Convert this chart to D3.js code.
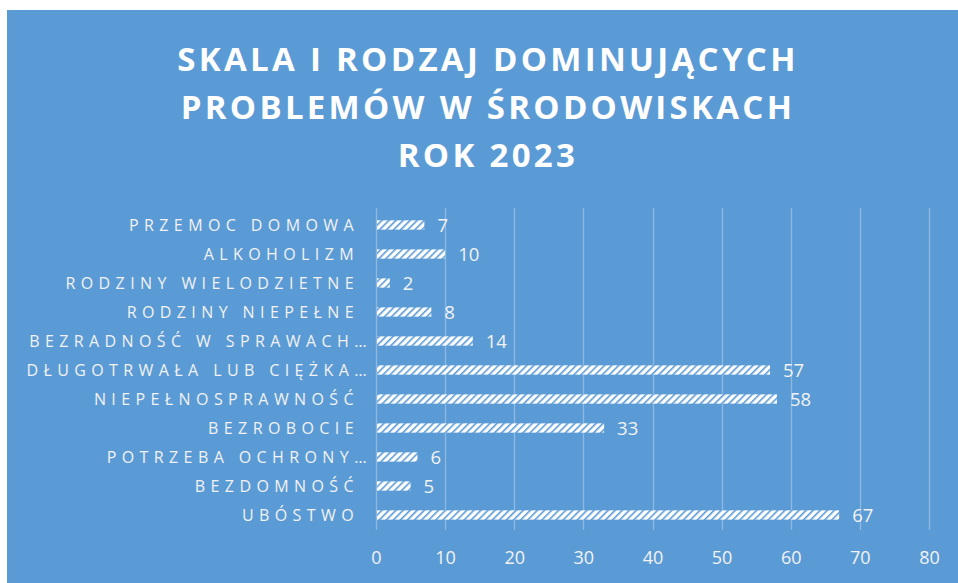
<!DOCTYPE html>
<html><head><meta charset="utf-8">
<script src="https://cdn.jsdelivr.net/npm/d3@7"></script>
<style>body{margin:0;background:#fff}svg{display:block}</style>
</head><body>
<svg id="c" width="958" height="583"></svg>
<script>
const categories = ["PRZEMOC DOMOWA","ALKOHOLIZM","RODZINY WIELODZIETNE","RODZINY NIEPEŁNE","BEZRADNOŚĆ W SPRAWACH…","DŁUGOTRWAŁA LUB CIĘŻKA…","NIEPEŁNOSPRAWNOŚĆ","BEZROBOCIE","POTRZEBA OCHRONY…","BEZDOMNOŚĆ","UBÓSTWO"];
const values = [7,10,2,8,14,57,58,33,6,5,67];
const ticks = [0,10,20,30,40,50,60,70,80];
const titleLines = ["SKALA I RODZAJ DOMINUJĄCYCH","PROBLEMÓW W ŚRODOWISKACH","ROK 2023"];

const svg = d3.select("#c");
const bg = "#5B9BD5";
svg.append("rect").attr("x",7).attr("y",10).attr("width",951).attr("height",573).attr("fill",bg);

const defs = svg.append("defs");
const pat = defs.append("pattern").attr("id","hatch").attr("patternUnits","userSpaceOnUse")
  .attr("width",5).attr("height",5).attr("patternTransform","rotate(45)");
pat.append("rect").attr("width",5).attr("height",5).attr("fill","#fff");
pat.append("rect").attr("x",0).attr("width",1.6).attr("height",5).attr("fill",bg);

const x = d3.scaleLinear().domain([0,80]).range([376,929]);
const y = d3.scaleBand().domain(categories).range([210.5,529.5]).paddingInner(0.68).paddingOuter(0.34);

// gridlines
svg.append("g").selectAll("line").data(ticks).join("line")
  .attr("x1",d=>Math.round(x(d))+0.5).attr("x2",d=>Math.round(x(d))+0.5)
  .attr("y1",208).attr("y2",530)
  .attr("stroke","#8DB8E3").attr("stroke-width",1.3);

// title
svg.append("g").selectAll("text").data(titleLines).join("text")
  .attr("x",488).attr("y",(d,i)=>71+i*48)
  .attr("text-anchor","middle").attr("fill","#fff")
  .attr("font-family","Open Sans").attr("font-weight","bold").attr("font-size",33)
  .attr("letter-spacing",3.3)
  .text(d=>d);

// bars
svg.append("g").selectAll("rect").data(values).join("rect")
  .attr("x",x(0)+1).attr("y",(d,i)=>y(categories[i]))
  .attr("width",d=>x(d)-x(0)-1).attr("height",y.bandwidth())
  .attr("fill","url(#hatch)");

// value labels
svg.append("g").selectAll("text").data(values).join("text")
  .attr("x",d=>x(d)+13).attr("y",(d,i)=>y(categories[i])+y.bandwidth()/2)
  .attr("dy","0.36em").attr("fill","#F2F2F2")
  .attr("font-family","Open Sans").attr("font-size",18.5)
  .text(d=>d);

// category labels
svg.append("g").selectAll("text").data(categories).join("text")
  .attr("x",d=>d.endsWith("…")?372:359).attr("y",d=>y(d)+y.bandwidth()/2)
  .attr("dy","0.36em").attr("text-anchor","end").attr("fill","#F2F2F2")
  .attr("font-family","Open Sans").attr("font-size",16).attr("letter-spacing",5.4)
  .text(d=>d);

// axis
const axis = svg.append("g").attr("transform","translate(0,558)")
  .call(d3.axisBottom(x).tickValues(ticks).tickSize(0).tickPadding(0));
axis.select(".domain").remove();
axis.selectAll("text").attr("fill","#F2F2F2").attr("font-family","Open Sans").attr("font-size",18).attr("dy","0.36em");
</script>
</body></html>
